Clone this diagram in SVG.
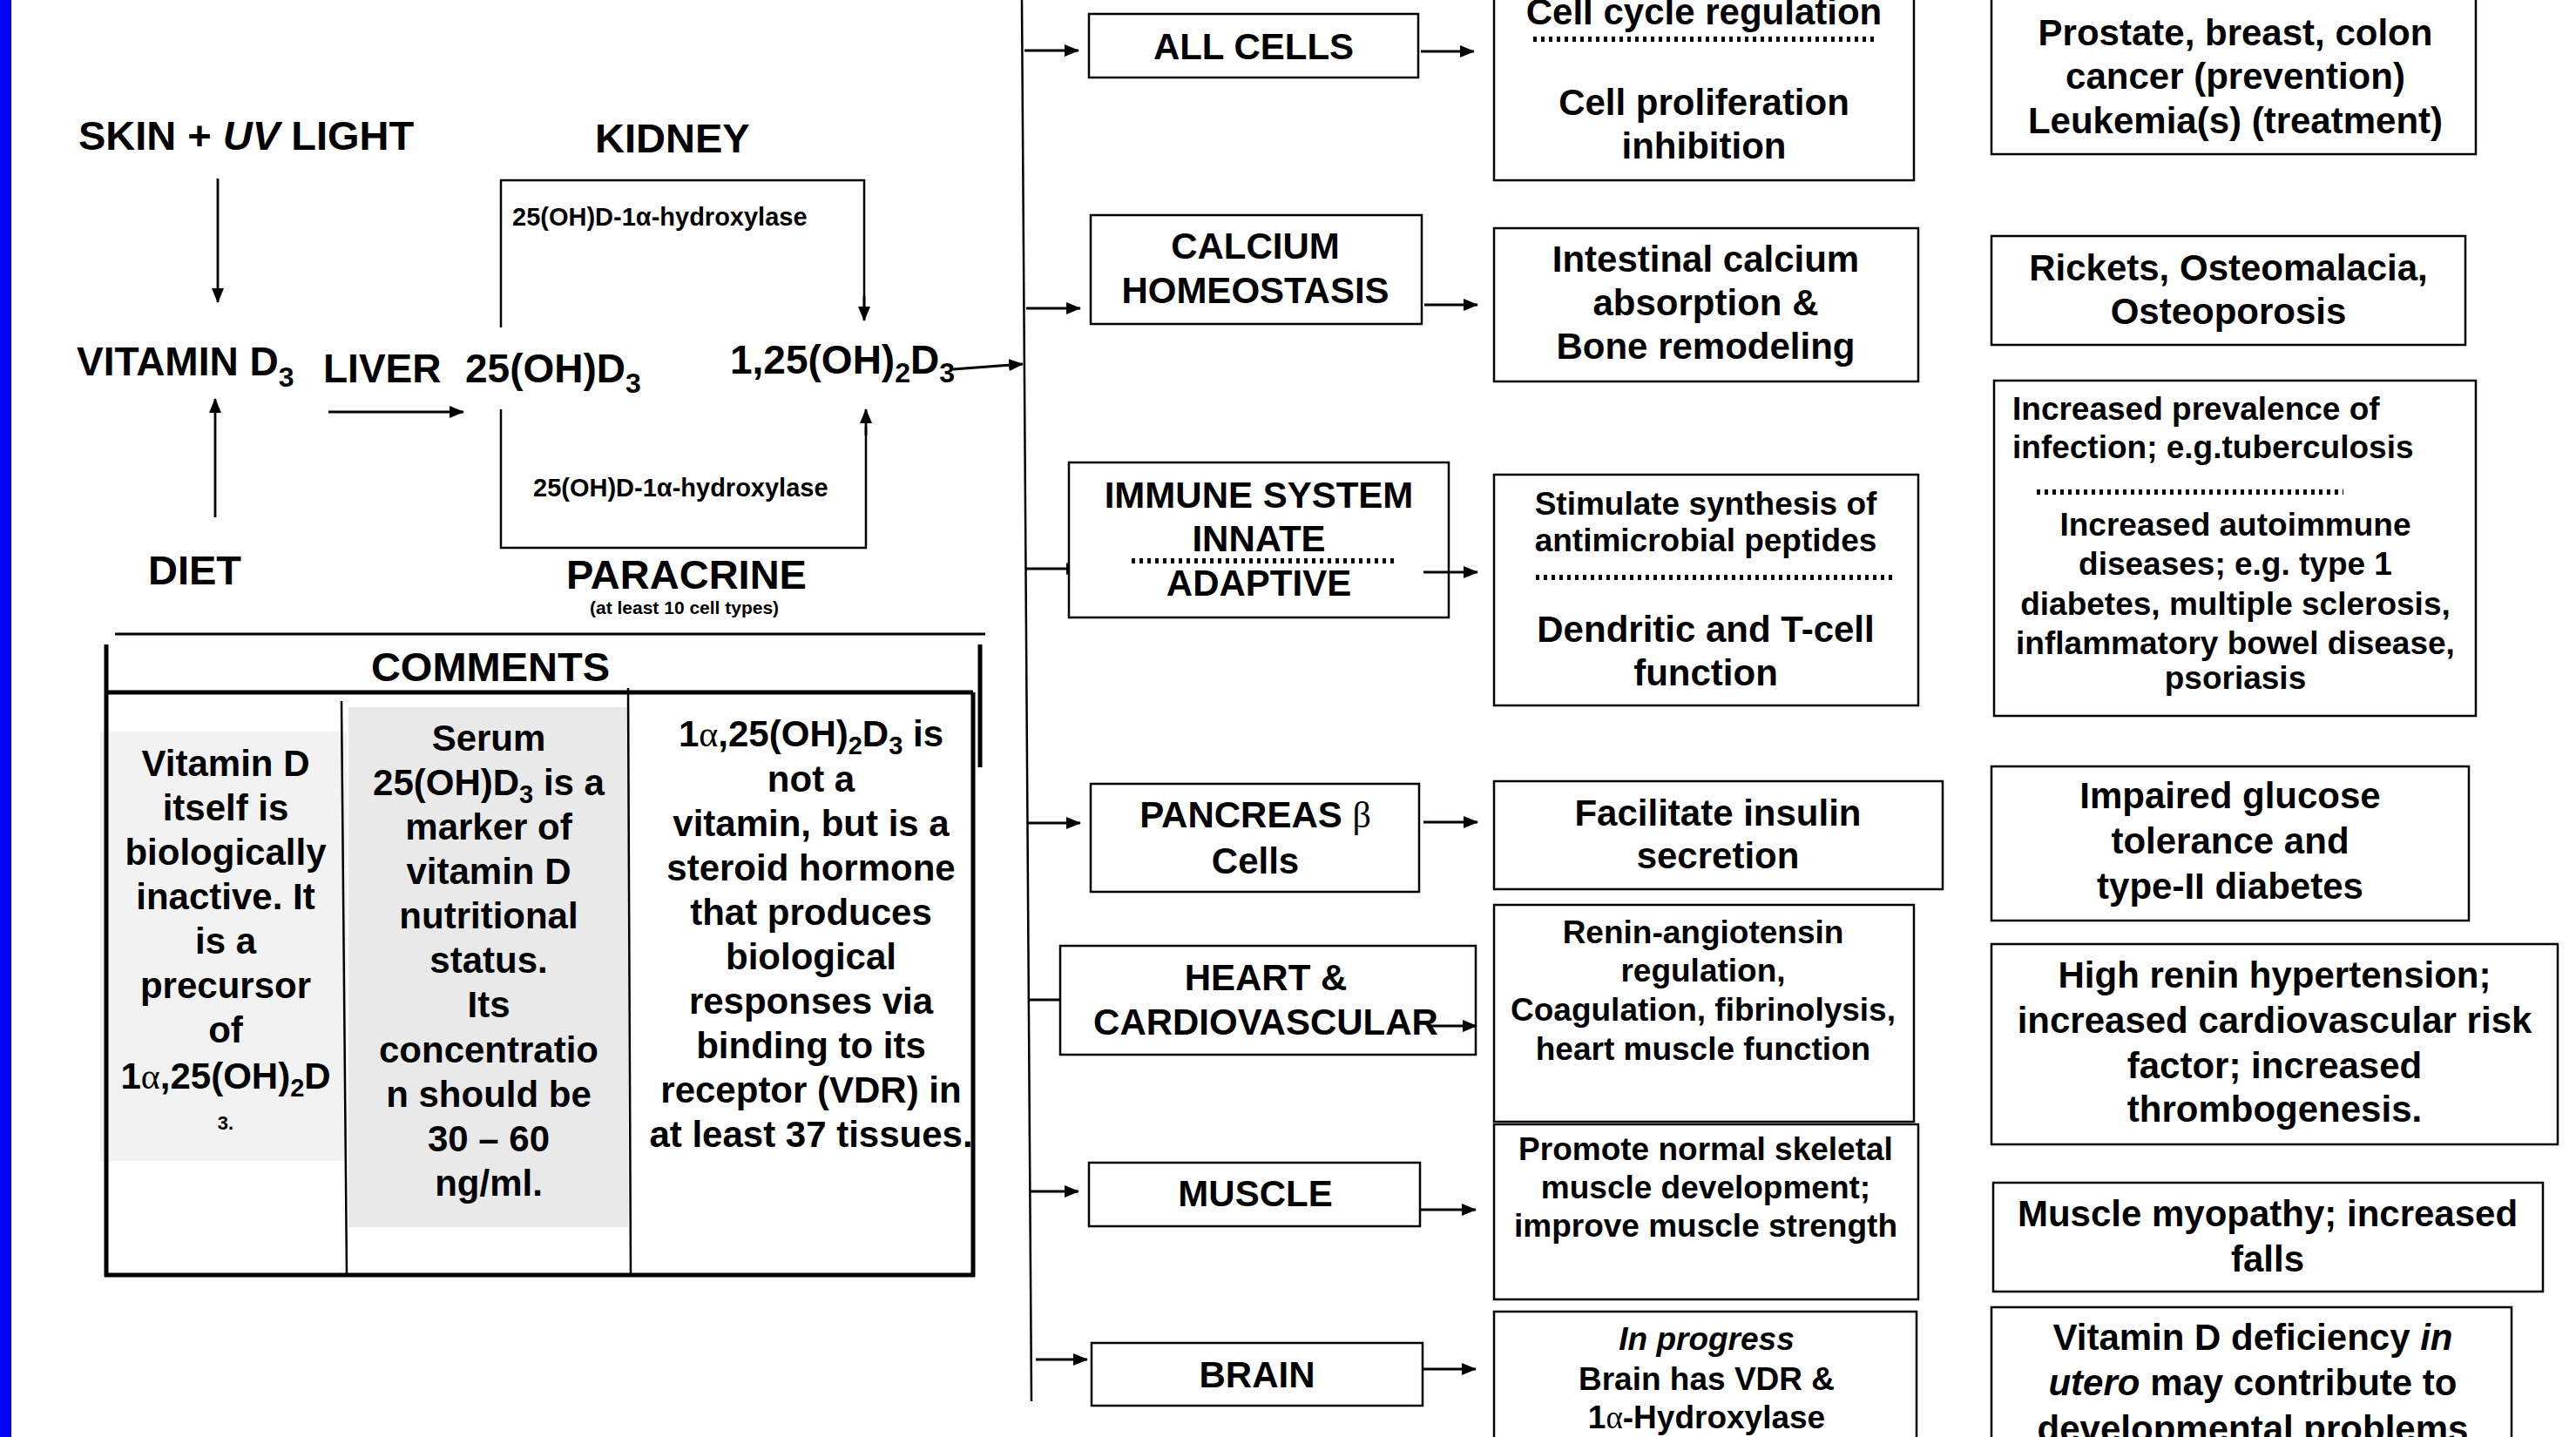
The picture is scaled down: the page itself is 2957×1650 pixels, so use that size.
<svg xmlns="http://www.w3.org/2000/svg" width="2957" height="1650" viewBox="0 0 2957 1650">
<style>
text{font-family:"Liberation Sans",Arial,sans-serif;font-weight:bold;fill:#000}
.c{text-anchor:middle}
.box{fill:#fff;stroke:#000;stroke-width:2.5}
.ln{fill:none;stroke:#000;stroke-width:2.5}
.ar{fill:none;stroke:#000;stroke-width:2.8;marker-end:url(#ah)}
.dot{fill:none;stroke:#000;stroke-width:6;stroke-dasharray:4 5}
.thick{fill:none;stroke:#000;stroke-width:5}
.g{font-family:"Liberation Serif","Times New Roman",serif;font-weight:normal}
.i{font-style:italic}
.f42{font-size:42px}
.f37{font-size:37px}
.f47{font-size:47px}
</style>
<defs>
<marker id="ah" markerWidth="17" markerHeight="14" refX="16" refY="7" orient="auto" markerUnits="userSpaceOnUse"><path d="M0,0 L17,7 L0,14 z" fill="#000"/></marker>
</defs>
<rect x="0" y="0" width="2957" height="1650" fill="#fff"/>
<rect x="0" y="0" width="13" height="1650" fill="#0000ff"/>

<g id="connectors">
<line class="ar" x1="250" y1="205" x2="250" y2="347"/>
<line class="ar" x1="247" y1="594" x2="247" y2="458"/>
<line class="ar" x1="377" y1="473" x2="532" y2="473"/>
<polyline class="ln" points="575,376 575,207 992,207 992,352"/>
<line class="ar" x1="992" y1="340" x2="992" y2="368"/>
<polyline class="ln" points="575,470 575,629 994,629 994,490"/>
<line class="ar" x1="994" y1="500" x2="994" y2="470"/>
<line class="ar" x1="1094" y1="424" x2="1174" y2="418"/>
<line class="ln" x1="1173" y1="0" x2="1184" y2="1609"/>
<line class="ar" x1="1176" y1="58" x2="1238" y2="58"/>
<line class="ar" x1="1178" y1="354" x2="1240" y2="354"/>
<line class="ar" x1="1178" y1="653" x2="1240" y2="653"/>
<line class="ar" x1="1180" y1="945" x2="1240" y2="945"/>
<line class="ar" x1="1181" y1="1148" x2="1238" y2="1148"/>
<line class="ar" x1="1182" y1="1368" x2="1238" y2="1368"/>
<line class="ar" x1="1189" y1="1561" x2="1248" y2="1561"/>
</g>

<g id="flow-labels">
<text x="90" y="172" class="f47">SKIN + <tspan class="i">UV</tspan> LIGHT</text>
<text x="683" y="175" class="f47">KIDNEY</text>
<text x="88" y="431" font-size="46">VITAMIN D<tspan font-size="32" dy="13">3</tspan></text>
<text x="371" y="439" font-size="46">LIVER</text>
<text x="534" y="439" font-size="46">25(OH)D<tspan font-size="32" dy="12">3</tspan></text>
<text x="838" y="429" font-size="46">1,25(OH)<tspan font-size="32" dy="10">2</tspan><tspan dy="-10">D</tspan><tspan font-size="32" dy="10">3</tspan></text>
<text x="170" y="671" class="f47">DIET</text>
<text x="650" y="676" class="f47">PARACRINE</text>
<text x="677" y="705" font-size="21">(at least 10 cell types)</text>
<text x="588" y="259" font-size="29">25(OH)D-1α-hydroxylase</text>
<text x="612" y="570" font-size="29">25(OH)D-1α-hydroxylase</text>
</g>

<g id="comments">
<rect x="115" y="840" width="283" height="493" fill="#f2f2f2"/>
<rect x="400" y="812" width="321" height="597" fill="#e9e9e9"/>
<line x1="132" y1="728" x2="1131" y2="728" stroke="#000" stroke-width="3"/>
<line class="thick" x1="122" y1="740" x2="122" y2="1466"/>
<line class="thick" x1="1125" y1="740" x2="1125" y2="881"/>
<line class="thick" x1="1117" y1="795" x2="1117" y2="1466"/>
<line class="thick" x1="122" y1="795" x2="1117" y2="795"/>
<line class="thick" x1="120" y1="1464" x2="1119" y2="1464"/>
<line class="ln" x1="392" y1="805" x2="398" y2="1464"/>
<line class="ln" x1="721" y1="790" x2="724" y2="1464"/>
<text x="563" y="782" class="c f47">COMMENTS</text>
<g class="c" font-size="42">
<text x="259" y="891">Vitamin D</text>
<text x="259" y="942">itself is</text>
<text x="259" y="993">biologically</text>
<text x="259" y="1044">inactive. It</text>
<text x="259" y="1095">is a</text>
<text x="259" y="1146">precursor</text>
<text x="259" y="1197">of</text>
<text x="259" y="1250">1<tspan class="g">α</tspan>,25(OH)<tspan font-size="29" dy="9">2</tspan><tspan dy="-9">D</tspan></text>
<text x="259" y="1297" font-size="22">3.</text>
<text x="561" y="862">Serum</text>
<text x="561" y="913">25(OH)D<tspan font-size="29" dy="9">3</tspan><tspan dy="-9"> is a</tspan></text>
<text x="561" y="964">marker of</text>
<text x="561" y="1015">vitamin D</text>
<text x="561" y="1066">nutritional</text>
<text x="561" y="1117">status.</text>
<text x="561" y="1168">Its</text>
<text x="561" y="1220">concentratio</text>
<text x="561" y="1271">n should be</text>
<text x="561" y="1322">30 – 60</text>
<text x="561" y="1373">ng/ml.</text>
<text x="931" y="857">1<tspan class="g">α</tspan>,25(OH)<tspan font-size="29" dy="9">2</tspan><tspan dy="-9">D</tspan><tspan font-size="29" dy="9">3</tspan><tspan dy="-9"> is</tspan></text>
<text x="931" y="909">not a</text>
<text x="931" y="960">vitamin, but is a</text>
<text x="931" y="1011">steroid hormone</text>
<text x="931" y="1062">that produces</text>
<text x="931" y="1113">biological</text>
<text x="931" y="1164">responses via</text>
<text x="931" y="1215">binding to its</text>
<text x="931" y="1266">receptor (VDR) in</text>
<text x="931" y="1317">at least 37 tissues.</text>
</g>
</g>

<g id="all-cells">
<rect class="box" x="1250" y="16" width="378" height="73"/>
<text x="1439" y="68" class="c f42">ALL CELLS</text>
</g>
<line class="ar" x1="1631" y1="59" x2="1692" y2="59"/>
<g id="cell-cycle">
<rect class="box" x="1715" y="-40" width="482" height="247"/>
<text x="1956" y="28" class="c f42">Cell cycle regulation</text>
<line class="dot" x1="1760" y1="45" x2="2152" y2="45"/>
<text x="1956" y="132" class="c f42">Cell proliferation</text>
<text x="1956" y="182" class="c f42">inhibition</text>
</g>
<g id="cancer">
<rect class="box" x="2286" y="-40" width="556" height="217"/>
<text x="2566" y="52" class="c f42">Prostate, breast, colon</text>
<text x="2566" y="102" class="c f42">cancer (prevention)</text>
<text x="2566" y="153" class="c f42">Leukemia(s) (treatment)</text>
</g>

<g id="calcium">
<rect class="box" x="1252" y="247" width="380" height="125"/>
<text x="1441" y="297" class="c f42">CALCIUM</text>
<text x="1441" y="348" class="c f42">HOMEOSTASIS</text>
</g>
<line class="ar" x1="1635" y1="350" x2="1696" y2="350"/>
<g id="intestinal">
<rect class="box" x="1715" y="262" width="487" height="176"/>
<text x="1958" y="312" class="c f42">Intestinal calcium</text>
<text x="1958" y="362" class="c f42">absorption &amp;</text>
<text x="1958" y="412" class="c f42">Bone remodeling</text>
</g>
<g id="rickets">
<rect class="box" x="2286" y="271" width="544" height="125"/>
<text x="2558" y="322" class="c f42">Rickets, Osteomalacia,</text>
<text x="2558" y="372" class="c f42">Osteoporosis</text>
</g>

<g id="immune">
<rect class="box" x="1227" y="531" width="436" height="178"/>
<text x="1445" y="583" class="c f42">IMMUNE SYSTEM</text>
<text x="1445" y="633" class="c f42">INNATE</text>
<line class="dot" x1="1299" y1="644" x2="1602" y2="644"/>
<text x="1445" y="684" class="c f42">ADAPTIVE</text>
</g>
<line class="ar" x1="1634" y1="657" x2="1696" y2="657"/>
<g id="stimulate">
<rect class="box" x="1715" y="545" width="487" height="265"/>
<text x="1958" y="591" class="c f37">Stimulate synthesis of</text>
<text x="1958" y="633" class="c f37">antimicrobial peptides</text>
<line class="dot" x1="1763" y1="663" x2="2174" y2="663"/>
<text x="1958" y="737" class="c f42">Dendritic and T-cell</text>
<text x="1958" y="787" class="c f42">function</text>
</g>
<g id="infection">
<rect class="box" x="2289" y="437" width="553" height="385"/>
<text x="2310" y="482" class="f37">Increased prevalence of</text>
<text x="2310" y="526" class="f37">infection; e.g.tuberculosis</text>
<line class="dot" x1="2338" y1="565" x2="2690" y2="565"/>
<text x="2566" y="615" class="c f37">Increased autoimmune</text>
<text x="2566" y="660" class="c f37">diseases; e.g. type 1</text>
<text x="2566" y="706" class="c f37">diabetes, multiple sclerosis,</text>
<text x="2566" y="751" class="c f37">inflammatory bowel disease,</text>
<text x="2566" y="791" class="c f37">psoriasis</text>
</g>

<g id="pancreas">
<rect class="box" x="1252" y="900" width="377" height="124"/>
<text x="1441" y="950" class="c f42">PANCREAS <tspan class="g">β</tspan></text>
<text x="1441" y="1003" class="c f42">Cells</text>
</g>
<line class="ar" x1="1634" y1="944" x2="1696" y2="944"/>
<g id="insulin">
<rect class="box" x="1715" y="897" width="515" height="124"/>
<text x="1972" y="948" class="c f42">Facilitate insulin</text>
<text x="1972" y="997" class="c f42">secretion</text>
</g>
<g id="glucose">
<rect class="box" x="2286" y="880" width="548" height="177"/>
<text x="2560" y="928" class="c f42">Impaired glucose</text>
<text x="2560" y="980" class="c f42">tolerance and</text>
<text x="2560" y="1032" class="c f42">type-II diabetes</text>
</g>

<g id="heart">
<rect class="box" x="1217" y="1086" width="477" height="125"/>
<text x="1453" y="1137" class="c f42">HEART &amp;</text>
<text x="1453" y="1188" class="c f42">CARDIOVASCULAR</text>
</g>
<line class="ar" x1="1641" y1="1178" x2="1695" y2="1178"/>
<g id="renin">
<rect class="box" x="1715" y="1039" width="482" height="249"/>
<text x="1955" y="1083" class="c f37">Renin-angiotensin</text>
<text x="1955" y="1127" class="c f37">regulation,</text>
<text x="1955" y="1172" class="c f37">Coagulation, fibrinolysis,</text>
<text x="1955" y="1217" class="c f37">heart muscle function</text>
</g>
<g id="hypertension">
<rect class="box" x="2286" y="1084" width="650" height="230"/>
<text x="2611" y="1134" class="c f42">High renin hypertension;</text>
<text x="2611" y="1186" class="c f42">increased cardiovascular risk</text>
<text x="2611" y="1238" class="c f42">factor; increased</text>
<text x="2611" y="1288" class="c f42">thrombogenesis.</text>
</g>

<g id="muscle">
<rect class="box" x="1250" y="1335" width="380" height="73"/>
<text x="1441" y="1385" class="c f42">MUSCLE</text>
</g>
<line class="ar" x1="1630" y1="1389" x2="1694" y2="1389"/>
<g id="skeletal">
<rect class="box" x="1715" y="1291" width="487" height="201"/>
<text x="1958" y="1332" class="c f37">Promote normal skeletal</text>
<text x="1958" y="1376" class="c f37">muscle development;</text>
<text x="1958" y="1420" class="c f37">improve muscle strength</text>
</g>
<g id="myopathy">
<rect class="box" x="2288" y="1358" width="631" height="125"/>
<text x="2603" y="1408" class="c f42">Muscle myopathy; increased</text>
<text x="2603" y="1460" class="c f42">falls</text>
</g>

<g id="brain">
<rect class="box" x="1253" y="1542" width="380" height="72"/>
<text x="1443" y="1593" class="c f42">BRAIN</text>
</g>
<line class="ar" x1="1633" y1="1572" x2="1694" y2="1572"/>
<g id="progress">
<rect class="box" x="1715" y="1506" width="485" height="200"/>
<text x="1959" y="1550" class="c f37"><tspan class="i">In progress</tspan></text>
<text x="1959" y="1596" class="c f37">Brain has VDR &amp;</text>
<text x="1959" y="1640" class="c f37">1<tspan class="g">α</tspan>-Hydroxylase</text>
</g>
<g id="development">
<rect class="box" x="2286" y="1501" width="597" height="200"/>
<text x="2586" y="1550" class="c f42">Vitamin D deficiency <tspan class="i">in</tspan></text>
<text x="2586" y="1602" class="c f42"><tspan class="i">utero</tspan> may contribute to</text>
<text x="2586" y="1655" class="c f42">developmental problems</text>
</g>
</svg>
